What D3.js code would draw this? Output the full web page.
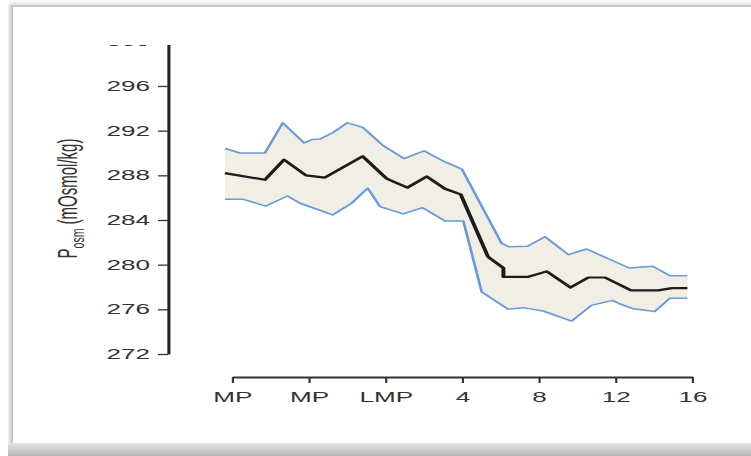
<!DOCTYPE html>
<html>
<head>
<meta charset="utf-8">
<script src="https://cdn.jsdelivr.net/npm/d3@7/dist/d3.min.js"></script>
<style>
  html, body { margin: 0; padding: 0; background: #ffffff; }
  svg { display: block; }
  text { font-family: "Liberation Sans", Arial, Helvetica, sans-serif; fill: #333; }
</style>
</head>
<body>
<svg id="chart" width="751" height="456"></svg>
<script>
// ---------------- data ----------------
const xTickValues = [-8, -4, 0, 4, 8, 12, 16];
const xTickLabels = ["MP", "MP", "LMP", "4", "8", "12", "16"];
const yTickValues = [272, 276, 280, 284, 288, 292, 296, 300];

const upperWeeks  = [-8.37, -7.58, -6.28, -5.35, -4.24, -3.84, -3.41, -2.71, -1.98, -1.18, -0.14, 0.97, 2.02, 3.11, 4.0, 6.07, 6.45, 7.42, 8.33, 9.55, 10.5, 11.55, 12.73, 13.95, 14.85, 15.76];
const upperValues = [290.4, 290.0, 290.0, 292.7, 290.9, 291.2, 291.25, 291.85, 292.7, 292.3, 290.7, 289.5, 290.2, 289.2, 288.55, 281.9, 281.6, 281.65, 282.5, 280.9, 281.4, 280.6, 279.7, 279.85, 279.0, 279.0];

const meanWeeks  = [-8.37, -6.28, -5.29, -4.14, -3.15, -1.18, 0.07, 1.15, 2.16, 3.11, 3.93, 5.36, 6.16, 6.16, 7.42, 8.42, 9.66, 10.59, 11.46, 12.82, 14.23, 14.96, 15.76];
const meanValues = [288.2, 287.6, 289.4, 288.0, 287.8, 289.7, 287.7, 286.9, 287.9, 286.8, 286.3, 280.7, 279.7, 278.9, 278.9, 279.4, 277.95, 278.85, 278.85, 277.7, 277.7, 277.9, 277.9];

const lowerWeeks  = [-8.37, -7.41, -6.23, -5.11, -4.45, -2.75, -1.76, -0.92, -0.28, 0.94, 1.95, 3.11, 4.07, 5.03, 6.41, 7.2, 8.23, 9.72, 10.75, 11.86, 12.21, 12.94, 14.05, 14.85, 15.76];
const lowerValues = [285.85, 285.85, 285.25, 286.15, 285.5, 284.45, 285.5, 286.85, 285.2, 284.55, 285.1, 283.9, 283.9, 277.55, 276.0, 276.15, 275.85, 274.95, 276.35, 276.8, 276.5, 276.05, 275.8, 277.0, 277.0];

// ---------------- layout ----------------
const S = 1.8; // horizontal stretch of the reference picture
const svg = d3.select("#chart");

// frame decoration (unscaled)
const defs = svg.append("defs");
const gb = defs.append("linearGradient").attr("id", "shadowB").attr("x1", 0).attr("y1", 0).attr("x2", 0).attr("y2", 1);
gb.append("stop").attr("offset", "0%").attr("stop-color", "#e6e6e6");
gb.append("stop").attr("offset", "100%").attr("stop-color", "#b4b4b4");
const gt = defs.append("linearGradient").attr("id", "shadowT").attr("x1", 0).attr("y1", 0).attr("x2", 0).attr("y2", 1);
gt.append("stop").attr("offset", "0%").attr("stop-color", "#fbfbfb");
gt.append("stop").attr("offset", "100%").attr("stop-color", "#e4e4e4");
const gl = defs.append("linearGradient").attr("id", "shadowL").attr("x1", 0).attr("y1", 0).attr("x2", 1).attr("y2", 0);
gl.append("stop").attr("offset", "0%").attr("stop-color", "#f4f4f4");
gl.append("stop").attr("offset", "100%").attr("stop-color", "#bdbdbd");

svg.append("rect").attr("x", 10).attr("y", 0).attr("width", 741).attr("height", 5).attr("fill", "url(#shadowT)");
svg.append("rect").attr("x", 10).attr("y", 5).attr("width", 741).attr("height", 2).attr("fill", "#c9c9c9");
svg.append("rect").attr("x", 8).attr("y", 5).attr("width", 5).attr("height", 440).attr("fill", "url(#shadowL)");
svg.append("rect").attr("x", 8).attr("y", 443).attr("width", 743).attr("height", 13).attr("fill", "url(#shadowB)");

defs.append("clipPath").attr("id", "clipTop")
  .append("rect").attr("x", 0).attr("y", 45).attr("width", 1000).attr("height", 500);

const g = svg.append("g").attr("transform", `scale(${S},1)`);

const x = d3.scaleLinear().domain([-8, 16]).range([232 / S, 692 / S]);
const y = d3.scaleLinear().domain([272, 300]).range([354, 354 - 28 * 11.167]);

// band
const upperPts = upperWeeks.map((w, i) => [w, upperValues[i]]);
const lowerPts = lowerWeeks.map((w, i) => [w, lowerValues[i]]);
const meanPts  = meanWeeks.map((w, i) => [w, meanValues[i]]);
const line = d3.line().x(d => x(d[0])).y(d => y(d[1]));

g.append("path")
  .attr("d", line(upperPts.concat(lowerPts.slice().reverse())) + "Z")
  .attr("fill", "#f0eee5").attr("stroke", "none");

g.append("path").attr("d", line(upperPts))
  .attr("fill", "none").attr("stroke", "#6b9bd4").attr("stroke-width", 1.5)
  .attr("stroke-linejoin", "round");
g.append("path").attr("d", line(lowerPts))
  .attr("fill", "none").attr("stroke", "#6b9bd4").attr("stroke-width", 1.5)
  .attr("stroke-linejoin", "round");
g.append("path").attr("d", line(meanPts))
  .attr("fill", "none").attr("stroke", "#1c1c1c").attr("stroke-width", 2.2)
  .attr("stroke-linejoin", "round");

// y axis
const yAxisG = g.append("g")
  .attr("clip-path", "url(#clipTop)")
  .append("g")
  .attr("transform", `translate(${168 / S},0)`)
  .call(d3.axisLeft(y).tickValues(yTickValues).tickFormat(d3.format("d"))
        .tickSize(10 / S).tickPadding(8 / S).tickSizeOuter(0));
yAxisG.select(".domain").attr("stroke", "#222").attr("stroke-width", 1.7);
yAxisG.selectAll(".tick line").attr("stroke", "#333").attr("stroke-width", 1.3);
yAxisG.selectAll(".tick text").attr("font-size", 14.5).attr("fill", "#333")
  .style("font-family", '"Liberation Sans", Arial, sans-serif');

// x axis
const xAxisG = g.append("g")
  .attr("transform", "translate(0,377)")
  .call(d3.axisBottom(x).tickValues(xTickValues).tickFormat((d, i) => xTickLabels[i])
        .tickSize(6).tickPadding(8.5).tickSizeOuter(0));
xAxisG.select(".domain").attr("stroke", "#333").attr("stroke-width", 1.8);
xAxisG.selectAll(".tick line").attr("stroke", "#333").attr("stroke-width", 1.2);
xAxisG.selectAll(".tick text").attr("font-size", 14.5).attr("fill", "#333")
  .style("font-family", '"Liberation Sans", Arial, sans-serif');

// y axis title
const title = g.append("text")
  .attr("transform", `translate(${77 / S},198.5) rotate(-90)`)
  .attr("text-anchor", "middle")
  .attr("font-size", 15)
  .attr("fill", "#333");
title.append("tspan").text("P");
title.append("tspan").attr("dy", 4).attr("font-size", 10.5).text("osm");
title.append("tspan").attr("dy", -4).text(" (mOsmol/kg)");
</script>
</body>
</html>
